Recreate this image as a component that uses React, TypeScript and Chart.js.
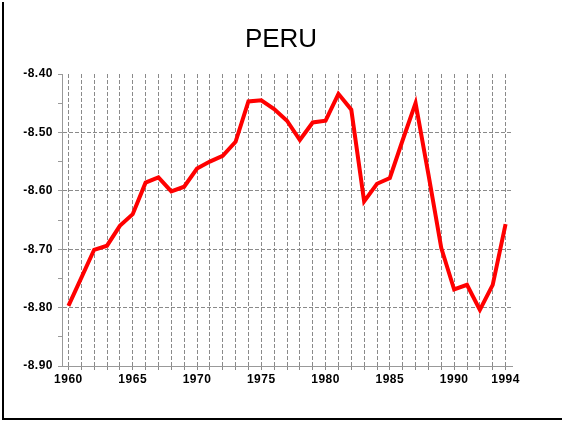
import React, { useEffect, useRef } from "react";
import { Chart, registerables } from "chart.js";

Chart.register(...registerables);

const TITLE = "PERU";
const years: number[] = [
  1960, 1961, 1962, 1963, 1964, 1965, 1966, 1967, 1968, 1969,
  1970, 1971, 1972, 1973, 1974, 1975, 1976, 1977, 1978, 1979,
  1980, 1981, 1982, 1983, 1984, 1985, 1986, 1987, 1988, 1989,
  1990, 1991, 1992, 1993, 1994,
];
const values: number[] = [
  -8.797, -8.749, -8.701, -8.694, -8.66, -8.64, -8.586, -8.577, -8.601, -8.593,
  -8.562, -8.55, -8.54, -8.516, -8.447, -8.445, -8.46, -8.48, -8.513, -8.483,
  -8.48, -8.434, -8.461, -8.618, -8.588, -8.578, -8.513, -8.45, -8.572, -8.698,
  -8.769, -8.761, -8.804, -8.761, -8.657,
];
const xLabelYears: number[] = [1960, 1965, 1970, 1975, 1980, 1985, 1990, 1994];
const yTicks: number[] = [-8.9, -8.85, -8.8, -8.75, -8.7, -8.65, -8.6, -8.55, -8.5, -8.45, -8.4];
const yMajor: number[] = [-8.9, -8.8, -8.7, -8.6, -8.5, -8.4];

const FONT = "'Liberation Sans', Arial, sans-serif";
const GRID = "#8a8a8a";

const isMajor = (v: number) => yMajor.some((m) => Math.abs(m - v) < 1e-6);

export default function App() {
  const ref = useRef<HTMLCanvasElement | null>(null);

  useEffect(() => {
    if (!ref.current) return;
    const spacingPlugin = {
      id: "spacing",
      beforeInit(chart: any) {
        chart.ctx.letterSpacing = "0.5px";
      },
      beforeUpdate(chart: any) {
        chart.ctx.letterSpacing = "0.5px";
      },
      beforeDraw(chart: any) {
        chart.ctx.letterSpacing = "0.5px";
      },
    };
    const titlePlugin = {
      id: "titleText",
      afterDraw(chart: any) {
        const ctx = chart.ctx;
        ctx.save();
        ctx.letterSpacing = "0px";
        ctx.fillStyle = "#000";
        ctx.font = `26px ${FONT}`;
        ctx.textAlign = "center";
        ctx.textBaseline = "alphabetic";
        ctx.fillText(TITLE, 281, 47);
        ctx.restore();
      },
    };
    const chart = new Chart(ref.current, {
      type: "line",
      data: {
        datasets: [
          {
            data: years.map((y, i) => ({ x: y, y: values[i] })),
            borderColor: "#ff0000",
            borderWidth: 4,
            pointRadius: 0,
            tension: 0,
            fill: false,
          },
        ],
      },
      options: {
        animation: false,
        responsive: false,
        devicePixelRatio: 1,
        layout: { padding: { top: 74, right: 50, left: 0, bottom: 0 } },
        plugins: { legend: { display: false }, title: { display: false }, tooltip: { enabled: false } },
        scales: {
          x: {
            type: "linear",
            min: 1959.5,
            max: 1994.5,
            afterBuildTicks: (scale: any) => {
              scale.ticks = years.map((v) => ({ value: v }));
            },
            afterFit: (scale: any) => {
              scale.height = 55;
            },
            ticks: {
              autoSkip: false,
              maxRotation: 0,
              minRotation: 0,
              padding: 2,
              color: "#000",
              font: { family: FONT, size: 12, weight: "bold" },
              callback: (v: any) => (xLabelYears.includes(Number(v)) ? String(v) : ""),
            },
            grid: {
              color: GRID,
              lineWidth: 1,
              drawTicks: true,
              tickLength: 4,
              tickColor: GRID,
            },
            border: { display: true, color: "#999", width: 1, dash: [4, 2] },
          },
          y: {
            type: "linear",
            min: -8.9,
            max: -8.4,
            afterBuildTicks: (scale: any) => {
              scale.ticks = yTicks.map((v) => ({ value: v }));
            },
            afterFit: (scale: any) => {
              scale.width = 62;
            },
            ticks: {
              autoSkip: false,
              padding: 5,
              color: "#000",
              font: { family: FONT, size: 12, weight: "bold" },
              callback: (v: any) => (isMajor(Number(v)) ? Number(v).toFixed(2) : ""),
            },
            grid: {
              color: (ctx: any) => {
                const v = ctx.tick ? ctx.tick.value : 0;
                if (!isMajor(v)) return "rgba(0,0,0,0)";
                if (Math.abs(v - -8.4) < 1e-6) return "rgba(0,0,0,0)";
                return GRID;
              },
              lineWidth: 1,
              drawTicks: true,
              tickLength: 4,
              tickColor: "#999",
            },
            border: { display: true, color: "#999", width: 1, dash: [4, 2] },
          },
        },
      },
      plugins: [spacingPlugin, titlePlugin],
    } as any);
    return () => chart.destroy();
  }, []);

  return (
    <div style={{ position: "fixed", left: 0, top: 0, width: 562, height: 421, background: "#fff" }}>
      <canvas ref={ref} width={562} height={421} style={{ display: "block", width: 562, height: 421 }} />
      <div
        style={{
          position: "absolute",
          left: 2,
          top: 2,
          width: 560,
          height: 416,
          borderLeft: "2px solid #000",
          borderBottom: "2px solid #000",
          pointerEvents: "none",
        }}
      />
    </div>
  );
}
